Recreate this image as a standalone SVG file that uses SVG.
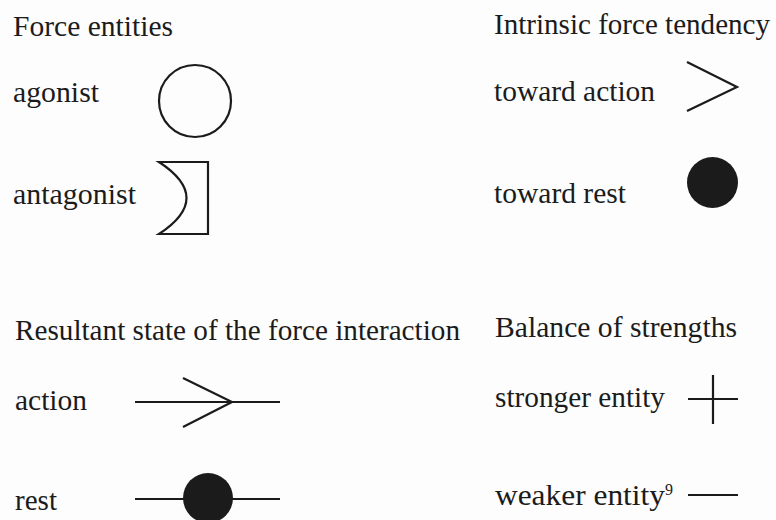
<svg xmlns="http://www.w3.org/2000/svg" width="776" height="520" viewBox="0 0 776 520">
<style>
text{font-family:"Liberation Serif","Times New Roman",serif;font-size:29px;fill:#1b1b1b}
.s{fill:none;stroke:#1b1b1b;stroke-width:2.2}
.f{fill:#1b1b1b;stroke:none}
</style>
<rect width="776" height="520" fill="#fdfdfd"/>
<g id="force-entities">
<text x="13" y="36" textLength="160" lengthAdjust="spacingAndGlyphs">Force entities</text>
</g>
<g id="agonist">
<text x="13" y="102" textLength="86" lengthAdjust="spacingAndGlyphs">agonist</text>
<circle class="s" cx="195" cy="101" r="36"/>
</g>
<g id="antagonist">
<text x="13" y="204" textLength="123" lengthAdjust="spacingAndGlyphs">antagonist</text>
<path class="s" d="M159,162 H208 V234 H159 Q214,198 159,162 Z"/>
</g>
<g id="intrinsic-force-tendency">
<text x="494" y="34" textLength="276" lengthAdjust="spacingAndGlyphs">Intrinsic force tendency</text>
</g>
<g id="toward-action">
<text x="494" y="101" textLength="161" lengthAdjust="spacingAndGlyphs">toward action</text>
<path class="s" d="M687,62 L737,87 L687,111"/>
</g>
<g id="toward-rest">
<text x="494" y="203" textLength="132" lengthAdjust="spacingAndGlyphs">toward rest</text>
<circle class="f" cx="712.5" cy="182.5" r="25.5"/>
</g>
<g id="resultant-state">
<text x="15" y="340" textLength="445" lengthAdjust="spacingAndGlyphs">Resultant state of the force interaction</text>
</g>
<g id="action">
<text x="15" y="410" textLength="72" lengthAdjust="spacingAndGlyphs">action</text>
<path class="s" d="M135,402 H280 M183,378 L232,402 L183,427"/>
</g>
<g id="rest">
<text x="15" y="510" textLength="42" lengthAdjust="spacingAndGlyphs">rest</text>
<path class="s" d="M135,499 H280"/>
<circle class="f" cx="208" cy="498" r="25"/>
</g>
<g id="balance-of-strengths">
<text x="495" y="337" textLength="242" lengthAdjust="spacingAndGlyphs">Balance of strengths</text>
</g>
<g id="stronger-entity">
<text x="495" y="407" textLength="170" lengthAdjust="spacingAndGlyphs">stronger entity</text>
<path class="s" d="M688,399 H738 M713,375 V424"/>
</g>
<g id="weaker-entity">
<text x="495" y="505" textLength="170" lengthAdjust="spacingAndGlyphs">weaker entity</text>
<text x="665" y="495" style="font-size:16px">9</text>
<path class="s" d="M688,495 H738"/>
</g>
</svg>
